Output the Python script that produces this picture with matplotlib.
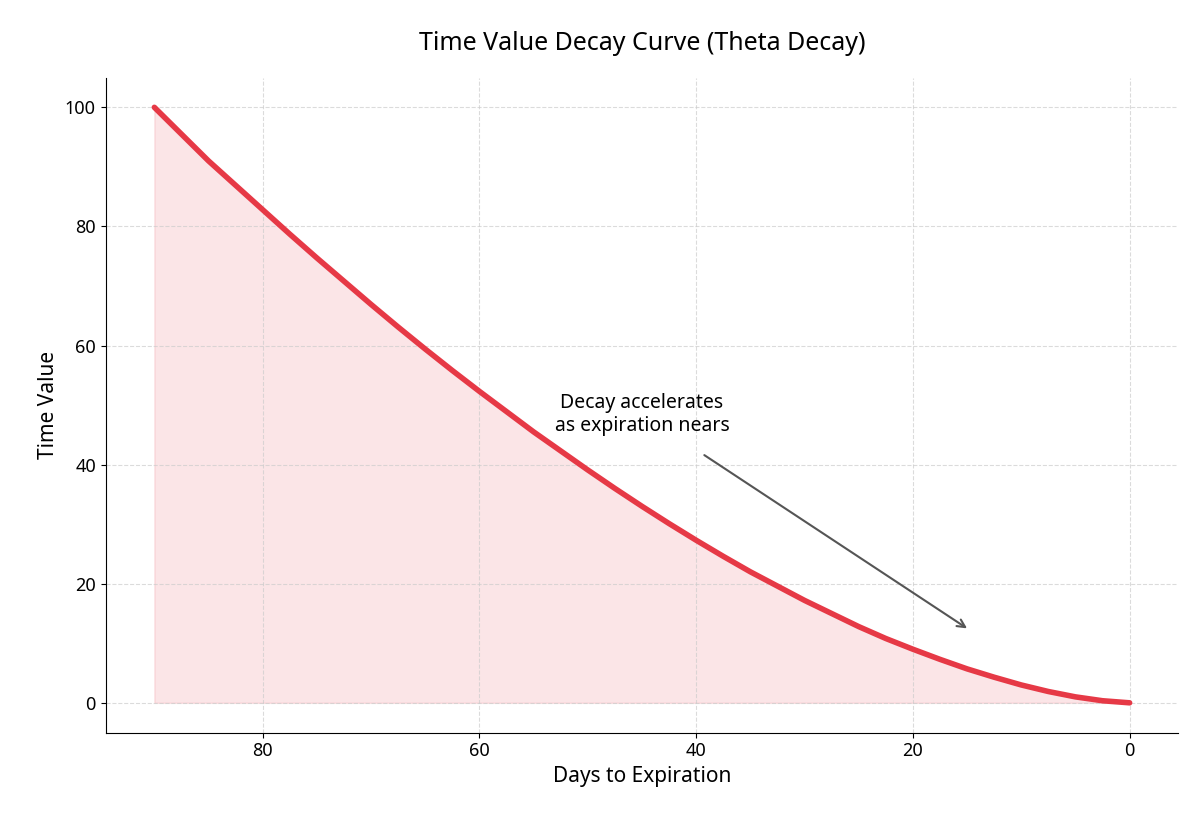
import matplotlib
matplotlib.use("Agg")
import matplotlib.pyplot as plt

plt.rcParams['font.family'] = ['Noto Sans', 'DejaVu Sans']

# values
days = [90, 87.5, 85, 82.5, 80, 77.5, 75, 72.5, 70, 67.5, 65, 62.5, 60, 57.5, 55, 52.5,
        50, 47.5, 45, 42.5, 40, 37.5, 35, 32.5, 30, 27.5, 25, 22.5, 20, 17.5, 15,
        12.5, 10, 7.5, 5, 2.5, 0]
time_value = [100, 95.5, 91.0, 86.9, 82.8, 78.7, 74.7, 70.8, 66.9, 63.1, 59.4, 55.8,
              52.3, 48.9, 45.5, 42.3, 39.1, 36.0, 33.0, 30.1, 27.3, 24.6, 22.0, 19.6,
              17.2, 15.0, 12.8, 10.8, 9.0, 7.3, 5.7, 4.3, 3.0, 1.9, 1.0, 0.35, 0]

fig, ax = plt.subplots(figsize=(12, 8.25), dpi=100)
ax.fill_between(days, time_value, 0, color='#e63946', alpha=0.13)
ax.plot(days, time_value, color='#e63946', linewidth=4, solid_capstyle='round')

ax.annotate('Decay accelerates\nas expiration nears', xy=(15, 12.5), xytext=(45, 48.5),
            ha='center', va='center', fontsize=14,
            arrowprops=dict(arrowstyle='->', color='#555555', lw=1.5,
                            shrinkA=22, shrinkB=0))

ax.set_xlim(94.5, -4.5)
ax.set_ylim(-5, 105)
ax.set_xticks([80, 60, 40, 20, 0])
ax.set_yticks([0, 20, 40, 60, 80, 100])
ax.tick_params(labelsize=13)
ax.grid(True, linestyle='--', color='#cccccc', alpha=0.7)
ax.spines['top'].set_visible(False)
ax.spines['right'].set_visible(False)
ax.set_xlabel('Days to Expiration', fontsize=15)
ax.set_ylabel('Time Value', fontsize=15)
ax.set_title('Time Value Decay Curve (Theta Decay)', fontsize=18, pad=20)

fig.subplots_adjust(left=0.088, right=0.982, top=0.906, bottom=0.112)
fig.savefig('out.png', dpi=100, facecolor='white')
